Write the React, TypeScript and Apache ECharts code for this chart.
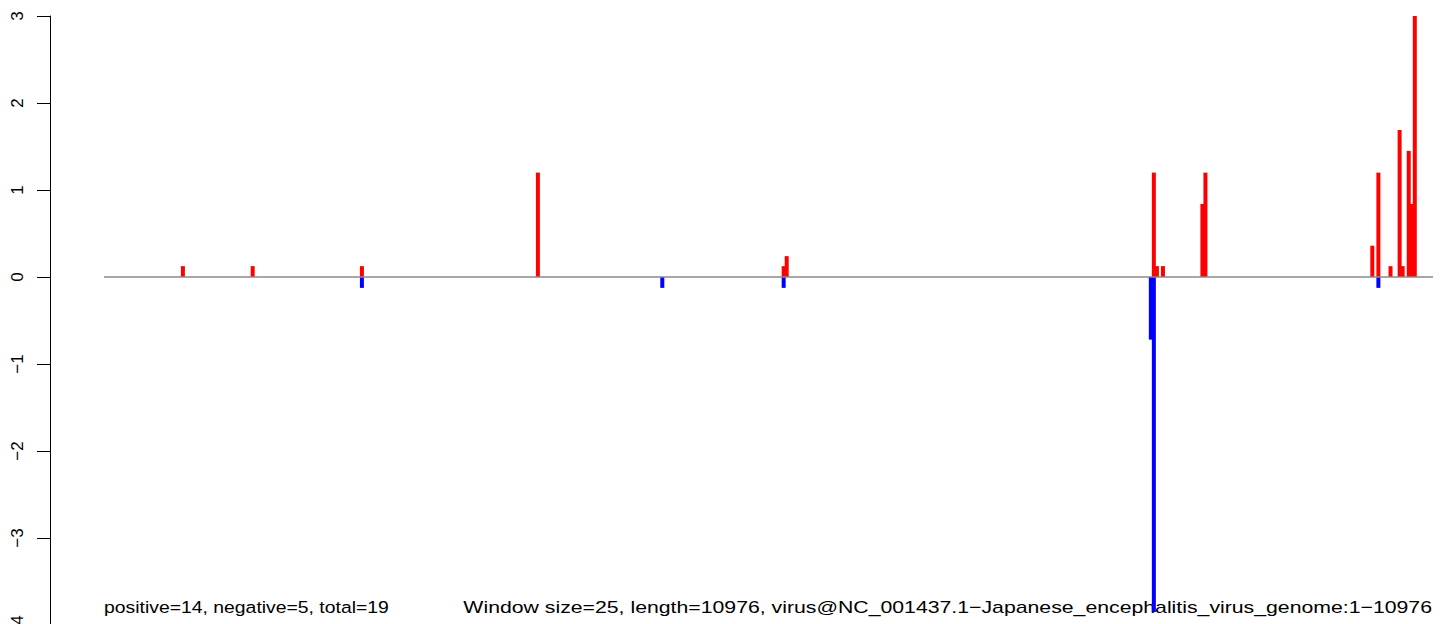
import React, { useEffect, useRef } from "react";
import * as echarts from "echarts";

// Window index (1..439) and score of each window
const posIdx = [27, 50, 86, 144, 225, 226, 347, 348, 350, 363, 364, 419, 421, 425, 428, 429, 431, 432, 433];
const posVal = [0.125, 0.125, 0.125, 1.2, 0.125, 0.24, 1.2, 0.125, 0.125, 0.84, 1.2, 0.36, 1.2, 0.125, 1.69, 0.125, 1.45, 0.84, 3.01];
const negIdx = [86, 185, 225, 346, 347, 421];
const negVal = [-0.125, -0.125, -0.125, -0.72, -3.85, -0.125];

const windowCount = 439;
const yTicks = [-4, -3, -2, -1, 0, 1, 2, 3];
const leftText = "positive=14, negative=5, total=19";
const rightText = "Window size=25, length=10976, virus@NC_001437.1\u2212Japanese_encephalitis_virus_genome:1\u221210976";

const FONT = "'Liberation Sans', Arial, Helvetica, sans-serif";

export default function App() {
  const ref = useRef<HTMLDivElement>(null);
  useEffect(() => {
    if (!ref.current) return;
    const chart = echarts.init(ref.current, null, { renderer: "svg" });
    const pxPerUnit = (1433 - 104) / (windowCount - 1);
    const xMin = 1 - (104 - 50) / pxPerUnit;
    const xMax = windowCount + (1444 - 1433) / pxPerUnit;
    chart.setOption({
      animation: false,
      backgroundColor: "#ffffff",
      grid: {
        left: 50,
        top: 16,
        width: 1394,
        height: 609,
        containLabel: false,
        outerBoundsMode: "none",
      },
      xAxis: {
        type: "value",
        min: xMin,
        max: xMax,
        show: false,
      },
      yAxis: {
        type: "value",
        min: yTicks[0],
        max: yTicks[yTicks.length - 1],
        interval: 1,
        splitLine: { show: false },
        axisLine: { show: true, onZero: false, lineStyle: { color: "#000", width: 1 } },
        axisTick: { show: true, length: 13, lineStyle: { color: "#000", width: 1 } },
        axisLabel: {
          rotate: 90,
          margin: 24,
          fontSize: 17,
          fontFamily: FONT,
          color: "#000",
          formatter: (v: number) => (v < 0 ? "\u2212" + Math.abs(v) : String(v)),
        },
      },
      series: [
        {
          type: "bar",
          data: posIdx.map((x, i) => [x, posVal[i]]),
          barWidth: 4,
          barGap: "-100%",
          itemStyle: { color: "#ff0000" },
          z: 2,
        },
        {
          type: "bar",
          data: negIdx.map((x, i) => [x, negVal[i]]),
          barWidth: 4,
          barGap: "-100%",
          itemStyle: { color: "#0000ff" },
          z: 2,
        },
        {
          type: "line",
          data: [
            [1, 0],
            [windowCount, 0],
          ],
          symbol: "none",
          lineStyle: { color: "#8a8a8a", width: 1.6 },
          z: 3,
          silent: true,
        },
      ],
      graphic: [
        {
          type: "text",
          x: 104,
          y: 616,
          scaleX: 1.14,
          style: { text: leftText, font: `17px ${FONT}`, fill: "#000", align: "left", verticalAlign: "bottom" },
        },
        {
          type: "text",
          x: 1432,
          y: 616,
          scaleX: 1.25,
          style: { text: rightText, font: `17px ${FONT}`, fill: "#000", align: "right", verticalAlign: "bottom" },
        },
      ],
    });
    return () => chart.dispose();
  }, []);
  return <div ref={ref} style={{ position: "fixed", left: 0, top: 0, width: 1444, height: 624 }} />;
}
